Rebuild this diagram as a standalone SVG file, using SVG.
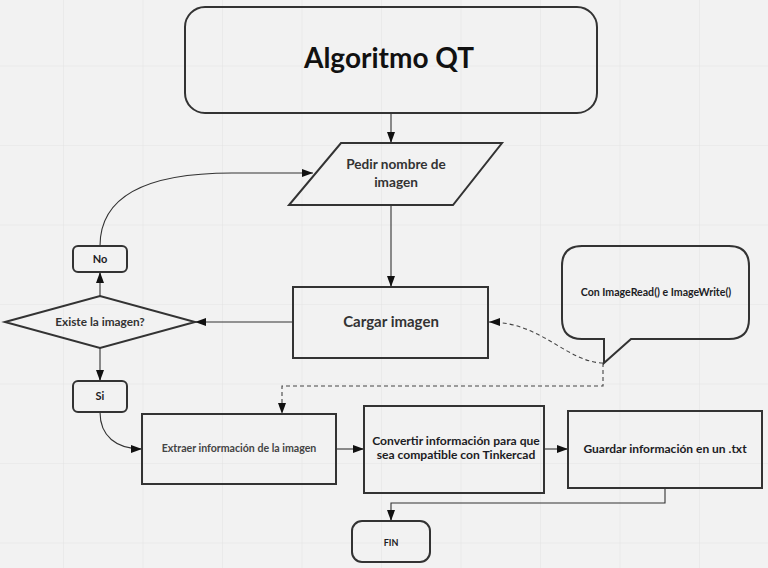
<svg xmlns="http://www.w3.org/2000/svg" width="768" height="568" viewBox="0 0 768 568">
<defs>
<marker id="ah" markerWidth="11" markerHeight="8" refX="11" refY="4" orient="auto" markerUnits="userSpaceOnUse">
<path d="M0,0 L11,4 L0,8 Z" fill="#111"/>
</marker>
<pattern id="grid" x="-15.5" y="-13" width="79.5" height="79.5" patternUnits="userSpaceOnUse">
<path d="M79.5,0 V79.5 M0,79.5 H79.5" fill="none" stroke="#e4e4e4" stroke-width="1.2"/>
</pattern>
</defs>
<style>
.box{fill:none;stroke:#333;stroke-width:2}
.con{fill:none;stroke:#333;stroke-width:1.1}
.dash{fill:none;stroke:#444;stroke-width:1.1;stroke-dasharray:4 3}
text{font-family:Lato,"Open Sans","Liberation Sans",sans-serif;font-weight:bold;text-anchor:middle;fill:#333}
.dark{fill:#1c1c24}
</style>
<rect width="768" height="568" fill="#f2f2f2"/>
<rect width="768" height="568" fill="url(#grid)"/>

<g id="connectors">
<path class="con" d="M391,113 V143" marker-end="url(#ah)"/>
<path class="con" d="M391,205 V287" marker-end="url(#ah)"/>
<path class="con" d="M293,322 H195" marker-end="url(#ah)"/>
<path class="con" d="M100,296 V272" marker-end="url(#ah)"/>
<path class="con" d="M100,348 V381" marker-end="url(#ah)"/>
<path class="con" d="M100,246 C100,194 150,173 232,173 L313,173" marker-end="url(#ah)"/>
<path class="con" d="M100,412 C100,436 116,449 142,449" marker-end="url(#ah)"/>
<path class="con" d="M336,449 H364" marker-end="url(#ah)"/>
<path class="con" d="M544,449 H568" marker-end="url(#ah)"/>
<path class="con" d="M665,488 V503 H391 V521" marker-end="url(#ah)"/>
<path class="dash" d="M603,363 C566,362 542,322 489,322" marker-end="url(#ah)"/>
<path class="dash" d="M603,363 V386 H282 V414" marker-end="url(#ah)"/>
</g>

<g id="title">
<rect class="box" x="185" y="7" width="412" height="106" rx="20"/>
<text x="389" y="68" font-size="28" style="fill:#111">Algoritmo QT</text>
</g>

<g id="pedir">
<polygon class="box" points="341,143 502,143 453,205 289,205"/>
<text x="396" y="169" font-size="13.6">Pedir nombre de</text>
<text x="396" y="187" font-size="13.6">imagen</text>
</g>

<g id="cargar">
<rect class="box" x="293" y="287" width="195" height="71"/>
<text x="391" y="327" font-size="15">Cargar imagen</text>
</g>

<g id="existe">
<polygon class="box" points="5,322 100,296 195,322 100,348"/>
<text x="100" y="326" font-size="11.8">Existe la imagen?</text>
</g>

<g id="no">
<rect class="box" x="73" y="246" width="54" height="26" rx="5"/>
<text x="100" y="263" font-size="11" class="dark">No</text>
</g>

<g id="si">
<rect class="box" x="73" y="381" width="54" height="31" rx="5"/>
<text x="100" y="400" font-size="11" class="dark">Si</text>
</g>

<g id="extraer">
<rect class="box" x="142" y="414" width="194" height="70"/>
<text x="239" y="452" font-size="10.6" style="fill:#444">Extraer información de la imagen</text>
</g>

<g id="convertir">
<rect class="box" x="364" y="406" width="180" height="87"/>
<text x="456" y="445" font-size="12.1" class="dark">Convertir información para que</text>
<text x="456" y="459" font-size="12.1" class="dark">sea compatible con Tinkercad</text>
</g>

<g id="guardar">
<rect class="box" x="568" y="411" width="194" height="77"/>
<text x="665" y="453" font-size="12" class="dark">Guardar información en un .txt</text>
</g>

<g id="fin">
<rect class="box" x="352" y="521" width="78" height="41" rx="10"/>
<text x="391" y="546" font-size="9" class="dark">FIN</text>
</g>

<g id="nota">
<path class="box" d="M582,246 H729 Q749,246 749,266 V319 Q749,339 729,339 H631 L604,363 V339 H582 Q562,339 562,319 V266 Q562,246 582,246 Z"/>
<text x="656" y="296" font-size="10.6" class="dark">Con ImageRead() e ImageWrite()</text>
</g>
</svg>
